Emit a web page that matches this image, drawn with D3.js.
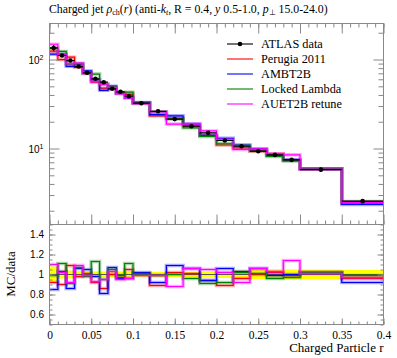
<!DOCTYPE html>
<html>
<head>
<meta charset="utf-8">
<script src="https://cdn.jsdelivr.net/npm/d3@7"></script>
<style>
  body { margin: 0; background: #fff; }
  text { font-family: "Liberation Serif", serif; }
  .sans { font-family: "Liberation Sans", Arial, sans-serif; }
</style>
</head>
<body>
<svg id="chart" width="397" height="358"></svg>
<script>
// bin edges in r
var binEdges = [0, 0.01, 0.02, 0.03, 0.04, 0.05, 0.06, 0.07, 0.08, 0.09, 0.1,
  0.12, 0.14, 0.16, 0.18, 0.2, 0.22, 0.24, 0.26, 0.28, 0.3, 0.35, 0.4];

// ATLAS data, rho_ch(r), and relative uncertainty
var dataVals = [135, 111, 97.4, 83.4, 70.9, 60.7, 55.6, 46.9, 43.4, 38.7,
  32.3, 26.2, 21.4, 17.8, 15.0, 12.3, 10.6, 9.33, 8.48, 7.46, 5.79, 2.56];
var dataErr = [0.08, 0.04, 0.04, 0.035, 0.03, 0.03, 0.03, 0.03, 0.03, 0.03,
  0.025, 0.025, 0.025, 0.025, 0.03, 0.035, 0.04, 0.045, 0.05, 0.05, 0.05, 0.045];

// MC / data ratios
var perugia = [0.92, 0.90, 1.09, 0.98, 1.01, 0.92, 0.86, 1.00, 0.97, 1.05,
  1.01, 0.89, 1.02, 1.01, 0.94, 0.89, 0.96, 1.00, 1.02, 0.99, 1.02, 0.96];
var ambt2b = [0.85, 1.03, 0.86, 1.06, 1.05, 0.98, 0.81, 1.07, 0.96, 0.96,
  1.02, 0.92, 1.09, 1.06, 0.94, 1.06, 1.03, 1.06, 0.99, 1.00, 1.02, 0.92];
var locked = [0.99, 1.11, 0.91, 1.07, 0.98, 1.13, 0.95, 1.05, 0.99, 1.11,
  1.00, 0.99, 1.00, 0.96, 0.91, 0.92, 1.02, 1.01, 0.96, 0.97, 1.02, 0.99];
var auet2b = [1.10, 1.02, 0.92, 1.09, 0.99, 0.93, 0.95, 1.03, 0.95, 0.96,
  0.99, 0.99, 0.88, 1.06, 1.05, 1.02, 0.92, 1.06, 1.03, 1.14, 1.01, 0.97];

var legendLabels = ["ATLAS data", "Perugia 2011", "AMBT2B", "Locked Lambda", "AUET2B retune"];
var mcColors = ["#ff0000", "#0000ff", "#008000", "#ff00ff"];
var mcRatios = [perugia, ambt2b, locked, auet2b];

var xMajor = [0, 0.05, 0.1, 0.15, 0.2, 0.25, 0.3, 0.35, 0.4];
var xLabels = ["0", "0.05", "0.1", "0.15", "0.2", "0.25", "0.3", "0.35", "0.4"];
var ratioMajor = [0.6, 0.8, 1, 1.2, 1.4];
var ratioLabels = ["0.6", "0.8", "1", "1.2", "1.4"];

var L = 49.5, R = 383.5, mainTop = 23.5, mainBot = 224.5, ratioBot = 324.5;

var svg = d3.select("#chart");

var x = d3.scaleLinear().domain([0, 0.4]).range([L, R]);
var y = d3.scaleLog().domain([1.40, 254]).range([mainBot, mainTop]);
var yr = d3.scaleLinear().domain([0.5, 1.5]).range([ratioBot, mainBot]);

// step points: one per bin left edge plus final edge
function stepPts(vals) {
  var pts = vals.map(function (v, i) { return [binEdges[i], v]; });
  pts.push([binEdges[binEdges.length - 1], vals[vals.length - 1]]);
  return pts;
}

svg.append("clipPath").attr("id", "mclip")
  .append("rect").attr("x", L).attr("y", mainTop).attr("width", R - L).attr("height", mainBot - mainTop);
svg.append("clipPath").attr("id", "rclip")
  .append("rect").attr("x", L).attr("y", mainBot).attr("width", R - L).attr("height", ratioBot - mainBot);

var lineMain = d3.line().x(function (d) { return x(d[0]); }).y(function (d) { return y(d[1]); }).curve(d3.curveStepAfter);
var lineRat = d3.line().x(function (d) { return x(d[0]); }).y(function (d) { return yr(d[1]); }).curve(d3.curveStepAfter);

// ---- main panel ----
var gMain = svg.append("g").attr("clip-path", "url(#mclip)");

mcRatios.forEach(function (rat, k) {
  var vals = rat.map(function (r, i) { return r * dataVals[i]; });
  var pts = stepPts(vals);
  gMain.append("path").attr("d", lineMain(pts)).attr("fill", "none")
    .attr("stroke", mcColors[k]).attr("stroke-width", 3.5).attr("stroke-opacity", 0.35);
  gMain.append("path").attr("d", lineMain(pts)).attr("fill", "none")
    .attr("stroke", mcColors[k]).attr("stroke-width", 1.2);
});

// data points
dataVals.forEach(function (v, i) {
  var xc = x((binEdges[i] + binEdges[i + 1]) / 2);
  gMain.append("line").attr("x1", x(binEdges[i])).attr("x2", x(binEdges[i + 1]))
    .attr("y1", y(v)).attr("y2", y(v)).attr("stroke", "#000").attr("stroke-width", 1.2);
  gMain.append("line").attr("x1", xc).attr("x2", xc)
    .attr("y1", y(v * (1 - dataErr[i]))).attr("y2", y(v * (1 + dataErr[i])))
    .attr("stroke", "#000").attr("stroke-width", 1.2);
  gMain.append("circle").attr("cx", xc).attr("cy", y(v)).attr("r", 2.3).attr("fill", "#000");
});

// ---- ratio panel ----
var gRat = svg.append("g").attr("clip-path", "url(#rclip)");
var errPts = stepPts(dataErr);
gRat.append("path")
  .attr("d", d3.area().x(function (d) { return x(d[0]); })
    .y0(function (d) { return yr(1 - d[1]); }).y1(function (d) { return yr(1 + d[1]); })
    .curve(d3.curveStepAfter)(errPts))
  .attr("fill", "#ffff00");
gRat.append("line").attr("x1", L).attr("x2", R).attr("y1", yr(1)).attr("y2", yr(1))
  .attr("stroke", "#555").attr("stroke-width", 1);

mcRatios.forEach(function (rat, k) {
  var pts = stepPts(rat);
  gRat.append("path").attr("d", lineRat(pts)).attr("fill", "none")
    .attr("stroke", mcColors[k]).attr("stroke-width", 3.5).attr("stroke-opacity", 0.35);
  gRat.append("path").attr("d", lineRat(pts)).attr("fill", "none")
    .attr("stroke", mcColors[k]).attr("stroke-width", 1.2);
});

// ---- axes ----
var tickCol = "#888";
function styleAxis(g) {
  g.select(".domain").remove();
  g.selectAll(".tick line").attr("stroke", tickCol);
  g.selectAll(".tick text").attr("fill", "#000");
}
var xMinor = d3.range(0, 0.4001, 0.01);

// top of main
svg.append("g").attr("transform", "translate(0," + mainTop + ")")
  .call(d3.axisTop(x).tickValues(xMinor).tickSize(-4).tickFormat("")).call(styleAxis);
svg.append("g").attr("transform", "translate(0," + mainTop + ")")
  .call(d3.axisTop(x).tickValues(xMajor).tickSize(-10).tickFormat("")).call(styleAxis);
// bottom of main
svg.append("g").attr("transform", "translate(0," + mainBot + ")")
  .call(d3.axisBottom(x).tickValues(xMinor).tickSize(-4).tickFormat("")).call(styleAxis);
svg.append("g").attr("transform", "translate(0," + mainBot + ")")
  .call(d3.axisBottom(x).tickValues(xMajor).tickSize(-10).tickFormat("")).call(styleAxis);
// bottom of ratio
svg.append("g").attr("transform", "translate(0," + ratioBot + ")")
  .call(d3.axisBottom(x).tickValues(xMinor).tickSize(-3).tickFormat("")).call(styleAxis);
svg.append("g").attr("transform", "translate(0," + ratioBot + ")")
  .call(d3.axisBottom(x).tickValues(xMajor).tickSize(-6).tickPadding(6)
    .tickFormat(function (d, i) { return xLabels[i]; }))
  .call(styleAxis)
  .selectAll("text").attr("font-size", 11.5).attr("font-family", "Liberation Serif, serif");

// main y (log)
var yMinor = [];
[1, 10, 100].forEach(function (dec) {
  for (var m = 2; m <= 9; m++) { if (dec * m >= 1.4 && dec * m <= 254) yMinor.push(dec * m); }
});
var yMajor = [10, 100];
svg.append("g").attr("transform", "translate(" + L + ",0)")
  .call(d3.axisLeft(y).tickValues(yMinor).tickSize(-5).tickFormat("")).call(styleAxis);
var yAx = svg.append("g").attr("transform", "translate(" + L + ",0)")
  .call(d3.axisLeft(y).tickValues(yMajor).tickSize(-10).tickPadding(6).tickFormat("")).call(styleAxis);
svg.append("g").attr("transform", "translate(" + R + ",0)")
  .call(d3.axisRight(y).tickValues(yMinor).tickSize(-5).tickFormat("")).call(styleAxis);
svg.append("g").attr("transform", "translate(" + R + ",0)")
  .call(d3.axisRight(y).tickValues(yMajor).tickSize(-10).tickFormat("")).call(styleAxis);
yAx.selectAll(".tick").each(function (d) {
  var t = d3.select(this).append("text").attr("class", "sans").attr("x", -6).attr("dy", "0.35em")
    .attr("text-anchor", "end").attr("font-size", 10).attr("fill", "#000");
  t.append("tspan").text("10");
  t.append("tspan").attr("dy", "-0.45em").attr("font-size", 7).text(String(Math.round(Math.log10(d))));
});

// ratio y
var rMinor = d3.range(0.5, 1.5001, 0.05);
svg.append("g").attr("transform", "translate(" + L + ",0)")
  .call(d3.axisLeft(yr).tickValues(rMinor).tickSize(-3).tickFormat("")).call(styleAxis);
svg.append("g").attr("transform", "translate(" + L + ",0)")
  .call(d3.axisLeft(yr).tickValues(ratioMajor).tickSize(-6).tickPadding(5.5)
    .tickFormat(function (d, i) { return ratioLabels[i]; }))
  .call(styleAxis)
  .selectAll("text").attr("font-size", 10).attr("class", "sans");
svg.append("g").attr("transform", "translate(" + R + ",0)")
  .call(d3.axisRight(yr).tickValues(rMinor).tickSize(-3).tickFormat("")).call(styleAxis);
svg.append("g").attr("transform", "translate(" + R + ",0)")
  .call(d3.axisRight(yr).tickValues(ratioMajor).tickSize(-6).tickFormat("")).call(styleAxis);

// frames
svg.append("rect").attr("x", L).attr("y", mainTop).attr("width", R - L).attr("height", mainBot - mainTop)
  .attr("fill", "none").attr("stroke", tickCol);
svg.append("rect").attr("x", L).attr("y", mainBot).attr("width", R - L).attr("height", ratioBot - mainBot)
  .attr("fill", "none").attr("stroke", tickCol);

// ---- legend ----
var leg = svg.append("g");
legendLabels.forEach(function (lab, i) {
  var ly = 44 + i * 15;
  var col = i === 0 ? "#000" : mcColors[i - 1];
  leg.append("line").attr("x1", 227).attr("x2", 253).attr("y1", ly).attr("y2", ly)
    .attr("stroke", col).attr("stroke-width", 1.1);
  if (i === 0) leg.append("circle").attr("cx", 240).attr("cy", ly).attr("r", 2.3).attr("fill", "#000");
  leg.append("text").attr("x", 261).attr("y", ly + 4).attr("font-size", 12.3).text(lab);
});

// ---- title & labels ----
var title = svg.append("text").attr("x", 49).attr("y", 13).attr("font-size", 11.8);
title.append("tspan").text("Charged jet ");
title.append("tspan").attr("font-style", "italic").text("ρ");
title.append("tspan").attr("font-size", 8).attr("dy", 2).text("ch");
title.append("tspan").attr("dy", -2).text("(");
title.append("tspan").attr("font-style", "italic").text("r");
title.append("tspan").text(") (anti-");
title.append("tspan").attr("font-style", "italic").text("k");
title.append("tspan").attr("font-style", "italic").attr("font-size", 8).attr("dy", 2).text("t");
title.append("tspan").attr("dy", -2).text(", R = 0.4, ");
title.append("tspan").attr("font-style", "italic").text("y");
title.append("tspan").text(" 0.5-1.0, ");
title.append("tspan").attr("font-style", "italic").text("p");
title.append("tspan").attr("font-size", 8).attr("dy", 2).text("⊥");
title.append("tspan").attr("dy", -2).text(" 15.0-24.0)");

svg.append("text").attr("x", R).attr("y", 352).attr("text-anchor", "end")
  .attr("font-size", 13).text("Charged Particle r");
svg.append("text").attr("transform", "translate(15,274) rotate(-90)").attr("text-anchor", "middle")
  .attr("font-size", 13).text("MC/data");
</script>
</body>
</html>
